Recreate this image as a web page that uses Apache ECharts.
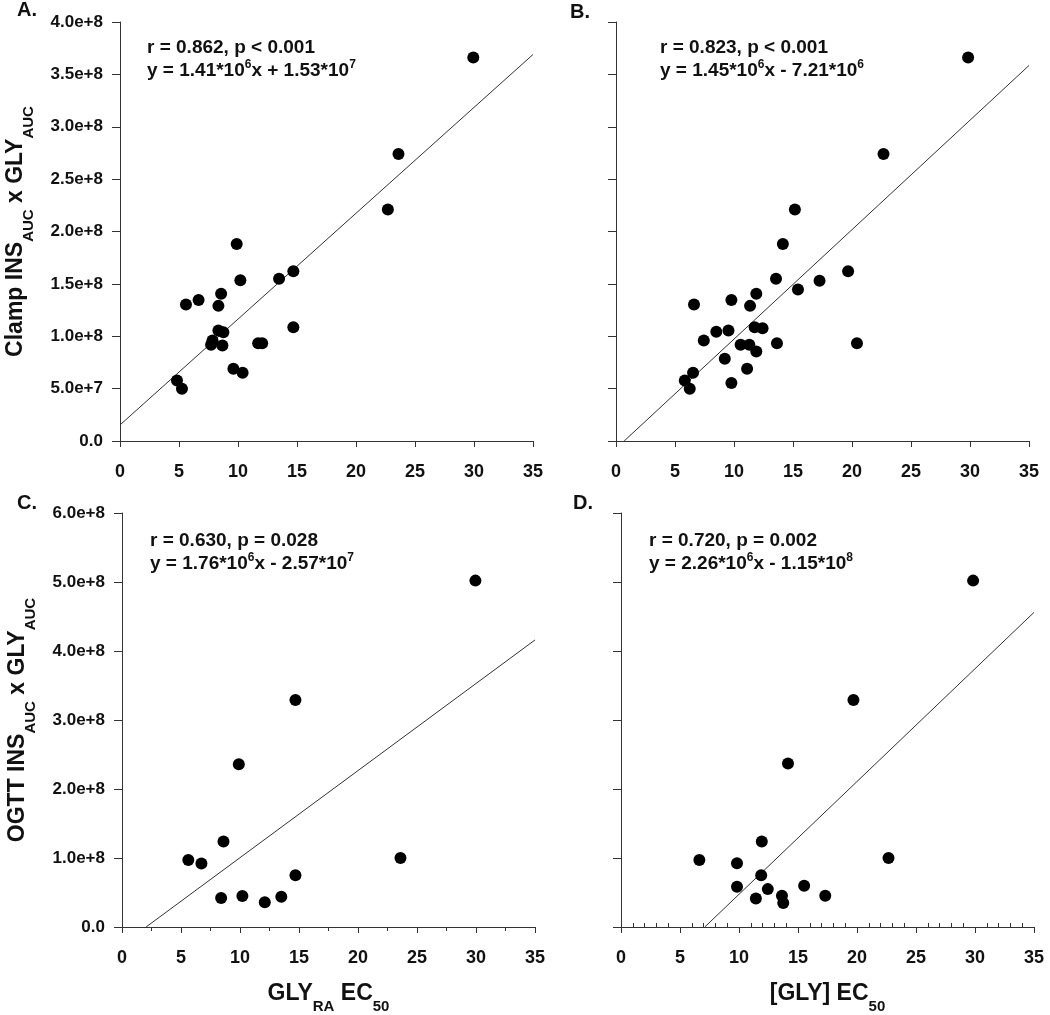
<!DOCTYPE html>
<html><head><meta charset="utf-8">
<script src="https://cdn.jsdelivr.net/npm/echarts@6/dist/echarts.min.js"></script>
<style>html,body{margin:0;padding:0;background:#fff}#c{width:1050px;height:1015px}</style>
</head><body><div id="c"></div><script>
// ---- data (y values in units of 1e8) ----
const xTickLabels = ['0','5','10','15','20','25','30','35'];
const yTickLabelsTop = ['0.0','5.0e+7','1.0e+8','1.5e+8','2.0e+8','2.5e+8','3.0e+8','3.5e+8','4.0e+8'];
const yTickLabelsBottom = ['0.0','1.0e+8','2.0e+8','3.0e+8','4.0e+8','5.0e+8','6.0e+8'];

const panelA_x = [29.94,23.6,22.7,9.89,14.69,13.48,10.2,8.57,6.66,5.59,8.34,14.69,8.34,8.76,7.84,7.72,8.68,11.71,12.05,9.61,10.39,4.83,5.25];
const panelA_y = [3.66,2.74,2.21,1.88,1.62,1.55,1.535,1.405,1.347,1.303,1.29,1.087,1.055,1.039,0.96,0.918,0.912,0.934,0.934,0.69,0.651,0.578,0.499];

const panelB_x = [29.84,22.67,15.16,14.14,19.67,13.56,17.25,15.42,11.89,9.78,6.61,11.36,11.75,12.42,8.5,9.53,7.44,10.56,11.3,11.89,13.64,20.42,9.22,11.11,6.53,5.83,6.25,9.78];
const panelB_y = [3.66,2.74,2.21,1.88,1.62,1.55,1.53,1.446,1.405,1.347,1.303,1.29,1.087,1.077,1.042,1.055,0.96,0.918,0.918,0.855,0.934,0.934,0.785,0.69,0.651,0.578,0.499,0.553];

const panelC_x = [29.95,14.7,9.9,8.6,5.62,6.73,23.6,14.7,8.4,10.2,12.1,13.5];
const panelC_y = [5.02,3.29,2.36,1.24,0.97,0.92,1.0,0.75,0.42,0.45,0.36,0.44];

const panelD_x = [29.84,19.7,14.15,11.93,6.64,9.83,22.67,11.88,9.83,12.44,15.52,11.43,13.64,13.75,17.31];
const panelD_y = [5.02,3.29,2.37,1.24,0.97,0.925,1.0,0.75,0.583,0.549,0.598,0.414,0.453,0.347,0.453];

// regression lines (as drawn): end points
const lineA_x = [0, 35],    lineA_y = [0.153, 3.69];
const lineB_x = [0.69, 35], lineB_y = [0, 3.585];
const lineC_x = [2.04, 35], lineC_y = [0, 4.16];
const lineD_x = [7.1, 35],  lineD_y = [0, 4.56];

const statsText = [
  ['r = 0.862, p < 0.001', 'y = 1.41*10', '6', 'x + 1.53*10', '7'],
  ['r = 0.823, p < 0.001', 'y = 1.45*10', '6', 'x - 7.21*10', '6'],
  ['r = 0.630, p = 0.028', 'y = 1.76*10', '6', 'x - 2.57*10', '7'],
  ['r = 0.720, p = 0.002', 'y = 2.26*10', '6', 'x - 1.15*10', '8']
];
const panelLetters = ['A.', 'B.', 'C.', 'D.'];

// ---- chart ----
const FONT = 'Liberation Sans';
const INK = '#111';
const AX = '#333';
const zip = (a, b) => a.map((v, i) => [v, b[i]]);

const grids = [
  {left:120, top:22, width:413, height:419},
  {left:616, top:22, width:413, height:419},
  {left:122, top:513, width:413, height:416},
  {left:621, top:513, width:413, height:416}
];

const nameRich = {
  m: {fontFamily: FONT, fontWeight: 'bold', fontSize: 23, color: INK, lineHeight: 40},
  s: {fontFamily: FONT, fontWeight: 'bold', fontSize: 15, color: INK, verticalAlign: 'bottom'}
};

function xAxisCfg(i, extra) {
  return Object.assign({
    type: 'value', gridIndex: i, min: 0, max: 35, interval: 5, position: 'bottom',
    axisLine: {show: true, onZero: false, lineStyle: {color: AX, width: 1}},
    axisTick: {show: true, length: 6, lineStyle: {color: AX, width: 1}},
    axisLabel: {show: true, margin: 22, fontFamily: FONT, fontWeight: 'bold', fontSize: 18, color: INK,
      formatter: v => xTickLabels[Math.round(v / 5)]},
    splitLine: {show: false}
  }, extra || {});
}
function yAxisCfg(i, max, interval, labels, extra) {
  return Object.assign({
    type: 'value', gridIndex: i, min: 0, max: max, interval: interval,
    axisLine: {show: true, onZero: false, lineStyle: {color: AX, width: 1}},
    axisTick: {show: true, length: 8, lineStyle: {color: AX, width: 1}},
    axisLabel: {show: !!labels, margin: 17, fontFamily: FONT, fontWeight: 'bold', fontSize: 17, color: INK,
      formatter: v => labels ? labels[Math.round(v / interval)] : ''},
    splitLine: {show: false}
  }, extra || {});
}

const xAxes = [
  xAxisCfg(0), xAxisCfg(1),
  xAxisCfg(2, {minorTick: {show: true, splitNumber: 2, length: 4, lineStyle: {color: AX, width: 1}},
    name: '{m|GLY}{s|RA}{m| EC}{s|50}', nameLocation: 'middle', nameGap: 47, nameTextStyle: {rich: nameRich}}),
  xAxisCfg(3, {name: '{m|[GLY] EC}{s|50}', nameLocation: 'middle', nameGap: 47, nameTextStyle: {rich: nameRich}}),
  // overlay axis for the inward minor ticks of panel D
  {type: 'value', gridIndex: 3, min: 0, max: 35, interval: 5, position: 'bottom',
   axisLine: {show: false, onZero: false}, axisTick: {show: false, inside: true},
   axisLabel: {show: false}, splitLine: {show: false},
   minorTick: {show: true, splitNumber: 5, length: 4, lineStyle: {color: AX, width: 1}}}
];
const yAxes = [
  yAxisCfg(0, 4, 0.5, yTickLabelsTop, {name: '{m|Clamp INS}{s|AUC}{m| x GLY}{s|AUC}', nameLocation: 'middle', nameRotate: 90, nameGap: 84, nameTextStyle: {rich: nameRich}}),
  yAxisCfg(1, 4, 0.5, null),
  yAxisCfg(2, 6, 1, yTickLabelsBottom, {name: '{m|OGTT INS}{s|AUC}{m| x GLY}{s|AUC}', nameLocation: 'middle', nameRotate: 90, nameGap: 84, nameTextStyle: {rich: nameRich}}),
  yAxisCfg(3, 6, 1, null)
];

const panels = [
  [panelA_x, panelA_y, lineA_x, lineA_y],
  [panelB_x, panelB_y, lineB_x, lineB_y],
  [panelC_x, panelC_y, lineC_x, lineC_y],
  [panelD_x, panelD_y, lineD_x, lineD_y]
];
const series = [];
panels.forEach((p, i) => {
  series.push({type: 'line', xAxisIndex: i, yAxisIndex: i, data: zip(p[2], p[3]), showSymbol: false, silent: true,
    lineStyle: {color: '#333', width: 1}, z: 2, animation: false});
  series.push({type: 'scatter', xAxisIndex: i, yAxisIndex: i, data: zip(p[0], p[1]), symbol: 'circle', symbolSize: 12,
    itemStyle: {color: '#000', opacity: 1}, silent: true, z: 3, animation: false});
});

const statRich = {
  m: {fontFamily: FONT, fontWeight: 'bold', fontSize: 19, color: INK, lineHeight: 23},
  u: {fontFamily: FONT, fontWeight: 'bold', fontSize: 12, color: INK, verticalAlign: 'top'}
};
const statPos = [[147, 36], [660, 36], [150, 529], [649, 529]];
const letterPos = [[17, 0], [570, 2], [17, 493], [573, 493]];
const titles = [];
statsText.forEach((t, i) => {
  titles.push({left: statPos[i][0], top: statPos[i][1], padding: 0, itemGap: 0,
    text: '{m|' + t[0] + '}\n{m|' + t[1] + '}{u|' + t[2] + '}{m|' + t[3] + '}{u|' + t[4] + '}',
    textStyle: {rich: statRich}});
});
panelLetters.forEach((l, i) => {
  titles.push({left: letterPos[i][0], top: letterPos[i][1], padding: 0, text: l,
    textStyle: {fontFamily: FONT, fontWeight: 'bold', fontSize: 20, color: INK}});
});

const chart = echarts.init(document.getElementById('c'), null, {renderer: 'canvas'});
chart.setOption({
  backgroundColor: '#fff',
  animation: false,
  title: titles,
  grid: grids,
  xAxis: xAxes,
  yAxis: yAxes,
  series: series
});
</script></body></html>
